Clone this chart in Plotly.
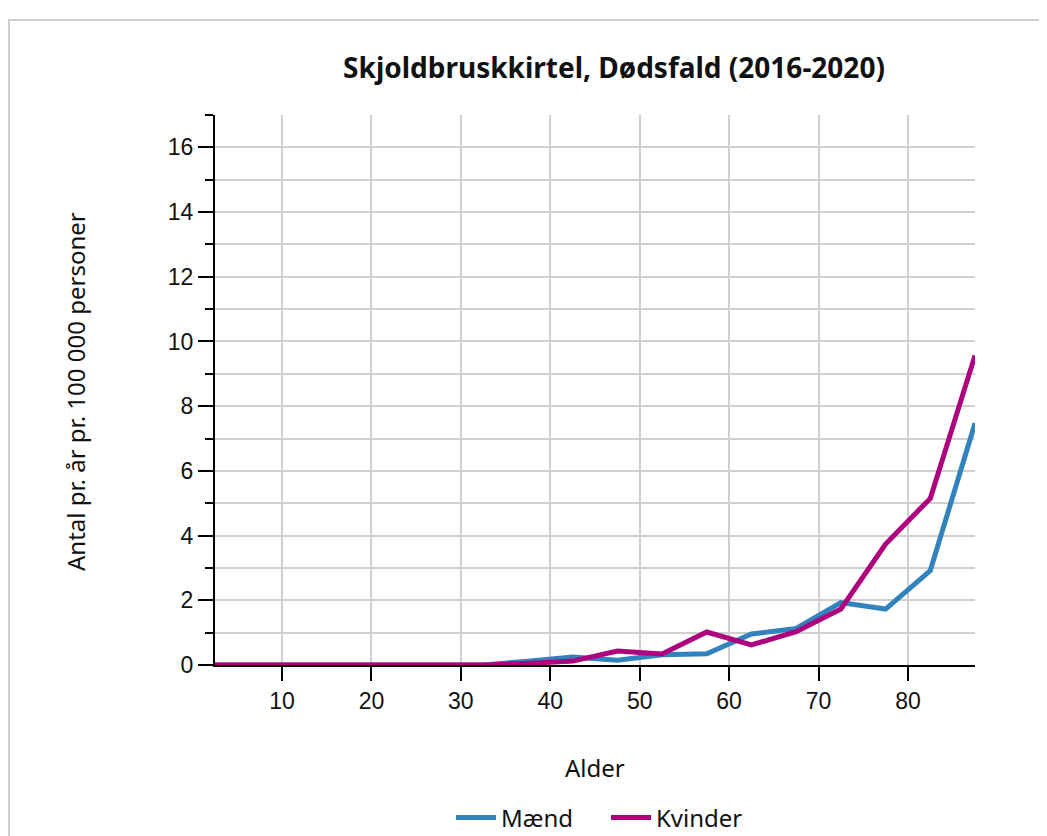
import plotly.graph_objects as go

ages = [2.5, 7.5, 12.5, 17.5, 22.5, 27.5, 32.5, 37.5, 42.5, 47.5, 52.5, 57.5, 62.5, 67.5, 72.5, 77.5, 82.5, 87.5]
maend = [0, 0, 0, 0, 0, 0, 0, 0.12, 0.25, 0.15, 0.32, 0.35, 0.96, 1.13, 1.93, 1.73, 2.92, 7.47]
kvinder = [0, 0, 0, 0, 0, 0, 0, 0.05, 0.12, 0.43, 0.34, 1.02, 0.62, 1.03, 1.73, 3.74, 5.15, 9.57]
x_ticks = [10, 20, 30, 40, 50, 60, 70, 80]
y_ticks = [0, 2, 4, 6, 8, 10, 12, 14, 16]

OFF = 8  # page body margin
W, H = 1047 - OFF, 880
L, T = 215 - OFF, 115 - OFF
R = W - (975 - OFF)
B = H - (665 - OFF)
pw, ph = W - L - R, H - T - B


def px_x(page_x):
    return (page_x - OFF - L) / pw


def px_y(page_y):
    return (H - B - (page_y - OFF)) / ph


fig = go.Figure()
fig.add_trace(go.Scatter(x=ages, y=maend, mode="lines", name="Mænd",
                         line=dict(color="#3182bd", width=5), cliponaxis=False))
fig.add_trace(go.Scatter(x=ages, y=kvinder, mode="lines", name="Kvinder",
                         line=dict(color="#ae017e", width=5), cliponaxis=False))

axis_font = dict(family="Noto Sans", size=24, color="#111")

fig.update_layout(
    width=W, height=H,
    margin=dict(l=L, r=R, t=T, b=B),
    paper_bgcolor="white", plot_bgcolor="white",
    title=dict(text="<b>Skjoldbruskkirtel, Dødsfald (2016-2020)</b>",
               x=px_x(614), xref="paper", xanchor="center",
               y=1 - (68 - OFF) / H, yanchor="middle",
               font=dict(family="Noto Sans", size=28, color="#111")),
    xaxis=dict(range=[2.5, 87.5], tickvals=x_ticks, ticks="outside", ticklen=14, tickwidth=2,
               tickcolor="black", showline=True, linecolor="black", linewidth=2,
               showgrid=True, gridcolor="#d0d0d0", gridwidth=1.5, zeroline=False,
               tickfont=dict(family="Liberation Sans", size=23, color="#111")),
    yaxis=dict(range=[0, 17], tickvals=y_ticks, ticks="outside", ticklen=15, tickwidth=2,
               tickcolor="black", showline=True, linecolor="black", linewidth=2,
               showgrid=True, gridcolor="#d0d0d0", gridwidth=1.5, zeroline=False,
               tickfont=dict(family="Liberation Sans", size=23, color="#111"),
               minor=dict(dtick=1, tick0=0, ticks="outside", ticklen=8, tickwidth=2,
                          tickcolor="black", showgrid=True, gridcolor="#d0d0d0", gridwidth=1.5)),
    legend=dict(orientation="h", x=px_x(606), xanchor="center",
                y=px_y(818), yanchor="middle", itemwidth=40,
                entrywidth=100, entrywidthmode="pixels",
                font=dict(family="Noto Sans", size=24, color="#111")),
    annotations=[
        dict(text="Alder", xref="paper", yref="paper", x=px_x(595), y=px_y(767),
             xanchor="center", yanchor="middle", showarrow=False, font=axis_font),
        dict(text="Antal pr. år pr. 100 000 personer", xref="paper", yref="paper",
             x=px_x(75), y=px_y(392), xanchor="center", yanchor="middle",
             textangle=-90, showarrow=False, font=axis_font),
    ],
    shapes=[dict(type="rect", xref="paper", yref="paper",
                 x0=px_x(9), x1=px_x(1080),
                 y0=px_y(900), y1=px_y(20),
                 line=dict(color="#d0d0d0", width=2), fillcolor="rgba(0,0,0,0)", layer="below")],
)

fig.write_html("out.html")
